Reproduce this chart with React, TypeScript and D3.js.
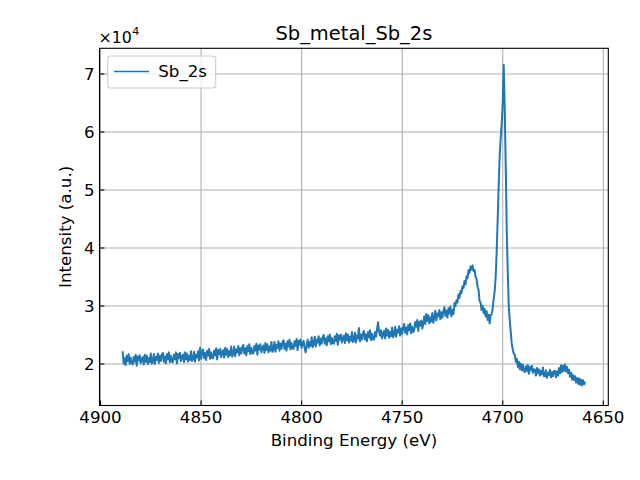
import React from "react";
import * as d3 from "d3";

const title = "Sb_metal_Sb_2s";
const xLabel = "Binding Energy (eV)";
const yLabel = "Intensity (a.u.)";
const seriesName = "Sb_2s";

const xTicks = [4900, 4850, 4800, 4750, 4700, 4650];
const yTicks = [2, 3, 4, 5, 6, 7];
const xDomain = [4900.5, 4647.5];
const yDomain = [1.284, 7.443];

// binding energy of first sample and spacing (eV)
const energyStart = 4889;
const energyStep = 0.5;

// intensity in units of 1e4, every 0.5 eV from 4889 eV down to 4659 eV
const intensity = [
  2.22, 2.01, 2.10, 1.98, 2.14, 2.05, 2.17, 2.00, 2.11, 2.02,
  1.99, 2.12, 2.04, 2.16, 1.97, 2.13, 2.06, 2.15, 2.01, 2.09,
  2.12, 1.99, 2.16, 2.04, 2.14, 2.00, 2.10, 2.03, 2.18, 2.01,
  2.04, 2.17, 2.00, 2.12, 2.07, 2.18, 2.02, 2.14, 2.05, 2.16,
  2.19, 2.04, 2.13, 2.01, 2.17, 2.08, 2.20, 2.03, 2.14, 2.05,
  2.03, 2.16, 2.08, 2.20, 2.01, 2.17, 2.10, 2.19, 2.05, 2.13,
  2.16, 2.03, 2.20, 2.08, 2.18, 2.04, 2.14, 2.07, 2.22, 2.05,
  2.08, 2.21, 2.04, 2.16, 2.11, 2.22, 2.06, 2.28, 2.09, 2.20,
  2.25, 2.10, 2.19, 2.07, 2.23, 2.14, 2.26, 2.09, 2.20, 2.11,
  2.10, 2.23, 2.15, 2.27, 2.08, 2.24, 2.17, 2.26, 2.12, 2.20,
  2.24, 2.11, 2.28, 2.16, 2.26, 2.12, 2.22, 2.15, 2.30, 2.13,
  2.17, 2.30, 2.13, 2.25, 2.20, 2.31, 2.15, 2.27, 2.18, 2.29,
  2.33, 2.18, 2.27, 2.15, 2.31, 2.22, 2.34, 2.17, 2.28, 2.19,
  2.18, 2.31, 2.23, 2.35, 2.16, 2.32, 2.25, 2.34, 2.20, 2.28,
  2.32, 2.19, 2.36, 2.24, 2.34, 2.20, 2.30, 2.23, 2.38, 2.21,
  2.25, 2.38, 2.21, 2.33, 2.28, 2.39, 2.23, 2.35, 2.26, 2.37,
  2.41, 2.26, 2.35, 2.23, 2.39, 2.30, 2.42, 2.25, 2.36, 2.27,
  2.26, 2.39, 2.31, 2.43, 2.24, 2.40, 2.33, 2.42, 2.28, 2.36,
  2.40, 2.27, 2.20, 2.32, 2.42, 2.28, 2.38, 2.31, 2.46, 2.29,
  2.34, 2.47, 2.30, 2.42, 2.37, 2.48, 2.32, 2.44, 2.35, 2.46,
  2.50, 2.35, 2.44, 2.32, 2.48, 2.39, 2.51, 2.34, 2.45, 2.36,
  2.35, 2.48, 2.40, 2.52, 2.33, 2.49, 2.42, 2.51, 2.37, 2.45,
  2.49, 2.36, 2.53, 2.41, 2.51, 2.37, 2.47, 2.40, 2.55, 2.38,
  2.41, 2.54, 2.37, 2.49, 2.44, 2.62, 2.39, 2.51, 2.42, 2.53,
  2.57, 2.42, 2.51, 2.39, 2.55, 2.46, 2.58, 2.41, 2.52, 2.43,
  2.42, 2.55, 2.47, 2.59, 2.72, 2.56, 2.49, 2.58, 2.44, 2.52,
  2.57, 2.44, 2.61, 2.49, 2.59, 2.45, 2.55, 2.48, 2.63, 2.46,
  2.51, 2.64, 2.47, 2.59, 2.54, 2.65, 2.49, 2.61, 2.52, 2.63,
  2.69, 2.54, 2.63, 2.51, 2.67, 2.58, 2.70, 2.53, 2.64, 2.55,
  2.59, 2.72, 2.64, 2.76, 2.57, 2.73, 2.66, 2.75, 2.61, 2.69,
  2.82, 2.69, 2.86, 2.74, 2.84, 2.70, 2.80, 2.73, 2.88, 2.71,
  2.79, 2.92, 2.75, 2.87, 2.82, 2.93, 2.77, 2.89, 2.80, 2.91,
  2.98, 2.83, 2.92, 2.80, 2.96, 2.87, 2.99, 2.82, 2.93, 2.86,
  3.05, 3.00, 3.10, 3.06, 3.20, 3.14, 3.26, 3.22, 3.34, 3.31,
  3.43, 3.37, 3.51, 3.48, 3.62, 3.57, 3.68, 3.63, 3.70, 3.60,
  3.62, 3.50, 3.47, 3.33, 3.28, 3.08, 3.06, 2.93, 3.00, 2.88,
  2.95, 2.82, 2.91, 2.76, 2.85, 2.70, 2.84, 2.86, 2.95, 3.12,
  3.25, 3.50, 3.95, 4.50, 5.10, 5.60, 5.90, 6.15, 6.50, 7.16,
  6.40, 5.40, 4.30, 3.60, 3.00, 2.75, 2.55, 2.35, 2.25, 2.18,
  2.16, 2.04, 2.09, 1.95, 2.04, 1.91, 2.01, 1.89, 1.99, 1.88,
  1.86, 1.96, 1.88, 1.98, 1.83, 1.95, 1.89, 1.97, 1.85, 1.91,
  1.90, 1.80, 1.93, 1.84, 1.91, 1.80, 1.88, 1.82, 1.94, 1.79,
  1.79, 1.89, 1.76, 1.85, 1.81, 1.90, 1.77, 1.86, 1.79, 1.88,
  1.88, 1.77, 1.87, 1.80, 1.93, 1.84, 1.98, 1.86, 1.97, 1.88,
  1.99, 1.87, 1.95, 1.84, 1.90, 1.78, 1.85, 1.73, 1.81, 1.72,
  1.79, 1.68, 1.76, 1.66, 1.75, 1.64, 1.73, 1.63, 1.72, 1.65,
  1.69,
];

const W = 640;
const H = 480;
const left = 99.5;
const right = 608.3;
const top = 48.3;
const bottom = 405.5;
const FONT = "DejaVu Sans, sans-serif";
const LINE_COLOR = "#1f77b4";

export default function App() {
  const x = d3.scaleLinear().domain(xDomain).range([left, right]);
  const y = d3.scaleLinear().domain(yDomain).range([bottom, top]);
  const pts: [number, number][] = intensity.map((v, i) => [energyStart - i * energyStep, v]);
  const line = d3
    .line<[number, number]>()
    .x((d) => x(d[0]))
    .y((d) => y(d[1]));
  const path = line(pts) || "";
  const cx = (left + right) / 2;
  const cy = (top + bottom) / 2;

  return (
    <svg
      width={W}
      height={H}
      viewBox={`0 0 ${W} ${H}`}
      style={{ position: "fixed", left: 0, top: 0, background: "#fff" }}
      fontFamily={FONT}
    >
      <rect x={0} y={0} width={W} height={H} fill="#fff" />
      <defs>
        <clipPath id="plotclip">
          <rect x={left} y={top} width={right - left} height={bottom - top} />
        </clipPath>
      </defs>
      {/* grid */}
      <g stroke="#b0b0b0" strokeWidth={1.1}>
        {xTicks.map((t) => (
          <line key={"gx" + t} x1={x(t)} x2={x(t)} y1={top} y2={bottom} />
        ))}
        {yTicks.map((t) => (
          <line key={"gy" + t} x1={left} x2={right} y1={y(t)} y2={y(t)} />
        ))}
      </g>
      {/* data */}
      <path
        d={path}
        fill="none"
        stroke={LINE_COLOR}
        strokeWidth={2}
        strokeLinejoin="round"
        clipPath="url(#plotclip)"
      />
      {/* ticks (inward) */}
      <g stroke="#000" strokeWidth={1.1}>
        {xTicks.map((t) => (
          <line key={"tx" + t} x1={x(t)} x2={x(t)} y1={bottom} y2={bottom - 4.9} />
        ))}
        {yTicks.map((t) => (
          <line key={"ty" + t} x1={left} x2={left + 4.9} y1={y(t)} y2={y(t)} />
        ))}
      </g>
      {/* spines */}
      <rect
        x={left}
        y={top}
        width={right - left}
        height={bottom - top}
        fill="none"
        stroke="#000"
        strokeWidth={1.1}
      />
      {/* tick labels */}
      <g fontSize={16.67} fill="#000">
        {xTicks.map((t) => (
          <text key={"lx" + t} x={x(t)} y={423} textAnchor="middle">
            {d3.format("d")(t)}
          </text>
        ))}
        {yTicks.map((t) => (
          <text key={"ly" + t} x={left - 4.9} y={y(t) + 6.2} textAnchor="end">
            {d3.format("d")(t)}
          </text>
        ))}
      </g>
      {/* offset text */}
      <text x={98.5} y={42.6} fontSize={15.8} fill="#000">
        {"×10"}
        <tspan fontSize={11} dx={0.5} dy={-7.6}>
          4
        </tspan>
      </text>
      {/* title */}
      <text x={cx} y={40} textAnchor="middle" fontSize={19.44} fill="#000">
        {title}
      </text>
      {/* axis labels */}
      <text x={cx} y={446} textAnchor="middle" fontSize={16.67} fill="#000">
        {xLabel}
      </text>
      <text
        transform={`translate(70.5, ${cy}) rotate(-90)`}
        textAnchor="middle"
        fontSize={16.67}
        fill="#000"
      >
        {yLabel}
      </text>
      {/* legend */}
      <g>
        <rect
          x={107.7}
          y={56}
          width={108}
          height={32}
          rx={3}
          ry={3}
          fill="#fff"
          fillOpacity={0.8}
          stroke="#cccccc"
          strokeWidth={1.1}
        />
        <line x1={114} x2={149} y1={71.5} y2={71.5} stroke={LINE_COLOR} strokeWidth={1.6} />
        <text x={158.3} y={76.7} fontSize={16.67} fill="#000">
          {seriesName}
        </text>
      </g>
    </svg>
  );
}
